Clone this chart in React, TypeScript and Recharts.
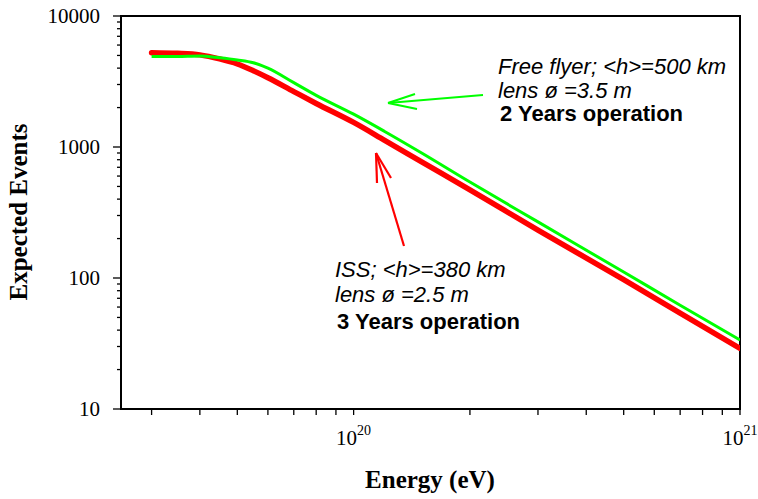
import React from 'react';
import { LineChart, Line, XAxis, YAxis, ReferenceArea, Customized } from 'recharts';

// Energy in eV
const energyEV = [3e19, 3.5e19, 4e19, 4.5e19, 5e19, 5.5e19, 6e19, 7e19, 8e19, 1e20, 1.2e20, 1.5e20, 2e20, 3e20, 5e20, 7e20, 1e21];
// ISS; <h>=380 km, 3 years
const issEvents = [5250, 5190, 5050, 4700, 4300, 3820, 3380, 2650, 2150, 1540, 1130, 770, 470, 232, 97, 54, 29];
// Free flyer; <h>=500 km, 2 years
const freeFlyerEvents = [4900, 4910, 4950, 4800, 4620, 4400, 4000, 3100, 2480, 1780, 1320, 900, 540, 268, 111, 62, 33.6];

const xMajorTicks = [1e20, 1e21];
const xTickExponents = ['20', '21'];
const xMinorTicks = [3e19, 4e19, 5e19, 6e19, 7e19, 8e19, 9e19, 2e20, 3e20, 4e20, 5e20, 6e20, 7e20, 8e20, 9e20];
const yMajorTicks = [10, 100, 1000, 10000];
const yTickLabels = ['10', '100', '1000', '10000'];
const yMinorTicks = [20, 30, 40, 50, 60, 70, 80, 90, 200, 300, 400, 500, 600, 700, 800, 900, 2000, 3000, 4000, 5000, 6000, 7000, 8000, 9000];

const ffLines = ['Free flyer; <h>=500 km', 'lens ø =3.5 m', '2 Years operation'];
const issLines = ['ISS; <h>=380 km', 'lens ø =2.5 m', '3 Years operation'];

const data = energyEV.map((e, i) => ({ e, iss: issEvents[i], ff: freeFlyerEvents[i] }));

const SERIF = '"Liberation Serif", "Times New Roman", serif';
const SANS = '"Liberation Sans", Arial, sans-serif';

const allX = [...xMinorTicks, ...xMajorTicks].sort((a, b) => a - b);
const allY = [...yMinorTicks, ...yMajorTicks].sort((a, b) => a - b);

const XTick = (props: any) => {
  const { x, y, payload } = props;
  const idx = xMajorTicks.indexOf(payload.value);
  return (
    <g>
      <line x1={x} x2={x} y1={y} y2={y + 6} stroke="#000" strokeWidth={1.3} />
      {idx >= 0 && (
        <text x={x} y={y + 36} textAnchor="middle" fontFamily={SERIF} fontSize={21} fill="#000">
          10<tspan dy={-10} fontSize={14}>{xTickExponents[idx]}</tspan>
        </text>
      )}
    </g>
  );
};

const YTick = (props: any) => {
  const { x, y, payload } = props;
  const idx = yMajorTicks.indexOf(payload.value);
  const major = idx >= 0;
  return (
    <g>
      <line x1={x} x2={x - (major ? 8 : 4)} y1={y} y2={y} stroke="#000" strokeWidth={1.3} />
      {major && (
        <text x={x - 21} y={y + 7} textAnchor="end" fontFamily={SERIF} fontSize={21} fill="#000">
          {yTickLabels[idx]}
        </text>
      )}
    </g>
  );
};

const Annotations = () => (
  <g>
    {/* axis titles */}
    <text x={430} y={488} textAnchor="middle" fontFamily={SERIF} fontWeight="bold" fontSize={25} fill="#000">
      Energy (eV)
    </text>
    <text transform="translate(27,212) rotate(-90)" textAnchor="middle" fontFamily={SERIF} fontWeight="bold" fontSize={25} fill="#000">
      Expected Events
    </text>
    {/* free flyer */}
    <text x={498} y={74} fontFamily={SANS} fontStyle="italic" fontSize={22} fill="#000">{ffLines[0]}</text>
    <text x={498} y={98} fontFamily={SANS} fontStyle="italic" fontSize={22} fill="#000">{ffLines[1]}</text>
    <text x={500} y={121} fontFamily={SANS} fontWeight="bold" fontSize={22} fill="#000">{ffLines[2]}</text>
    <g stroke="#00ff00" strokeWidth={2} fill="none">
      <line x1={483} y1={95} x2={388} y2={103} />
      <line x1={388} y1={103} x2={415} y2={94} />
      <line x1={388} y1={103} x2={417} y2={109} />
    </g>
    {/* ISS */}
    <text x={335} y={277} fontFamily={SANS} fontStyle="italic" fontSize={22} fill="#000">{issLines[0]}</text>
    <text x={335} y={302} fontFamily={SANS} fontStyle="italic" fontSize={22} fill="#000">{issLines[1]}</text>
    <text x={337} y={329} fontFamily={SANS} fontWeight="bold" fontSize={22} fill="#000">{issLines[2]}</text>
    <g stroke="#ff0000" strokeWidth={2.2} fill="none">
      <line x1={404} y1={246} x2={376} y2={153} />
      <line x1={376} y1={153} x2={377} y2={183} />
      <line x1={376} y1={153} x2={391} y2={178} />
    </g>
  </g>
);

export default function App() {
  return (
    <div style={{ position: 'absolute', left: 0, top: 0, width: 758, height: 499, background: '#fff' }}>
      <LineChart width={758} height={499} data={data} margin={{ top: 16, right: 18, bottom: 30, left: 41 }}>
        <XAxis
          dataKey="e"
          type="number"
          scale="log"
          domain={[2.5e19, 1e21]}
          ticks={allX}
          interval={0}
          tickSize={0}
          tickMargin={0}
          tickLine={false}
          tick={<XTick />}
          axisLine={{ stroke: '#000', strokeWidth: 2 }}
          height={60}
          allowDataOverflow
        />
        <YAxis
          type="number"
          scale="log"
          domain={[10, 10000]}
          ticks={allY}
          interval={0}
          tickSize={0}
          tickMargin={0}
          tickLine={false}
          tick={<YTick />}
          axisLine={{ stroke: '#000', strokeWidth: 2 }}
          width={80}
          allowDataOverflow
        />
        <ReferenceArea x1={2.5e19} x2={1e21} y1={10} y2={10000} fill="none" stroke="#000" strokeWidth={2} />
        <Line type="monotone" dataKey="iss" stroke="#ff0000" strokeWidth={5.5} strokeLinecap="round" dot={false} isAnimationActive={false} />
        <Line type="monotone" dataKey="ff" stroke="#00ff00" strokeWidth={3} dot={false} isAnimationActive={false} />
        <Customized component={<Annotations />} />
      </LineChart>
    </div>
  );
}
